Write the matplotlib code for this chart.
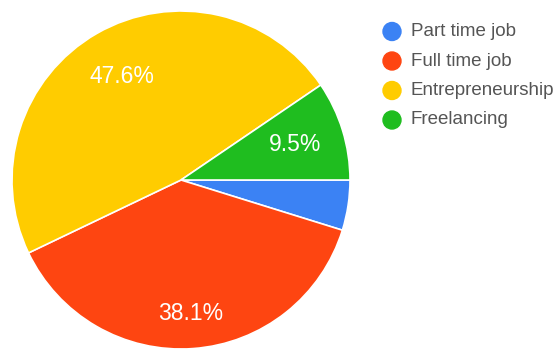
import numpy as np
import matplotlib.pyplot as plt
from matplotlib.patches import Ellipse

labels = ["Part time job", "Full time job", "Entrepreneurship", "Freelancing"]
shares = [4.8, 38.1, 47.6, 9.5]
colors = ["#3b82f4", "#fe4511", "#ffcc00", "#1fbd1f"]

plt.rcParams['font.family'] = ['Liberation Sans', 'DejaVu Sans']

W, H = 557, 351
fig = plt.figure(figsize=(W / 100, H / 100), dpi=100)
fig.patch.set_facecolor("white")

# pie centre and radius in pixels
cx, cy, r = 181, 180, 169
ax = fig.add_axes([(cx - r) / W, (H - cy - r) / H, 2 * r / W, 2 * r / H])
wedges, _ = ax.pie(shares, colors=colors, startangle=0, counterclock=False,
                   radius=1, wedgeprops=dict(edgecolor="white", linewidth=1.2))
ax.set_xlim(-1, 1)
ax.set_ylim(-1, 1)
ax.axis("off")

# percentage labels, skip the smallest slice
dist = {1: 0.79}
for i, w in enumerate(wedges):
    if shares[i] < 5:
        continue
    ang = np.deg2rad((w.theta1 + w.theta2) / 2)
    d = dist.get(i, 0.705)
    ax.text(d * np.cos(ang), d * np.sin(ang), f"{shares[i]}%",
            ha="center", va="center", color="white", fontsize=16.5)

# legend
for i, lab in enumerate(labels):
    y = 1 - (31.5 + 29.5 * i) / H
    fig.add_artist(Ellipse((392 / W, y), 18 / W, 18 / H,
                           transform=fig.transFigure, color=colors[i]))
    fig.text(411 / W, y, lab, ha="left", va="center", color="#555555", fontsize=13.5)

fig.savefig("out.png", dpi=100)
